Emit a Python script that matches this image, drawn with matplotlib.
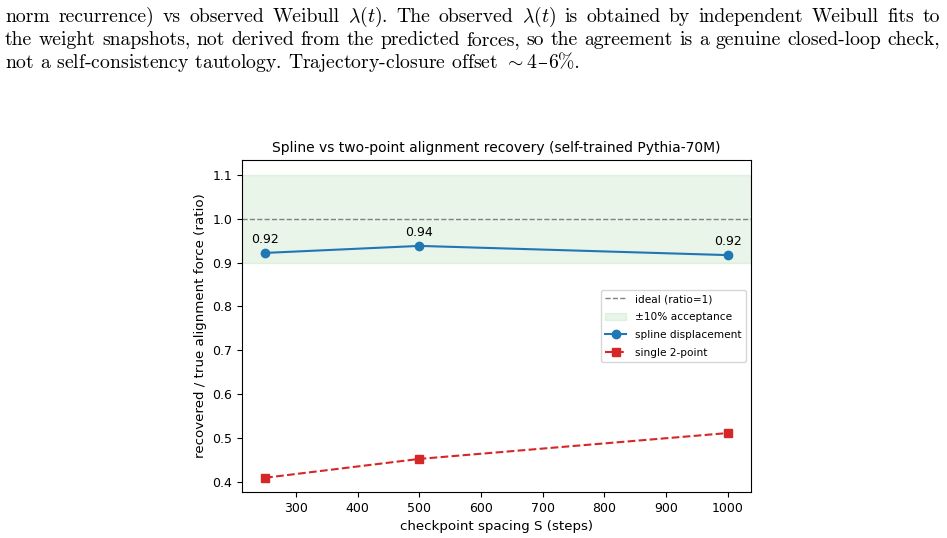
import matplotlib
matplotlib.use("Agg")
import matplotlib.pyplot as plt

# data
spacing = [250, 500, 1000]
spline_ratio = [0.922, 0.938, 0.917]
spline_labels = ["0.92", "0.94", "0.92"]
twopoint_ratio = [0.409, 0.452, 0.511]
x_ticks = [300, 400, 500, 600, 700, 800, 900, 1000]
y_ticks = [0.4, 0.5, 0.6, 0.7, 0.8, 0.9, 1.0, 1.1]

caption_justified = [
    r"norm recurrence) vs observed Weibull $\lambda(t)$. The observed $\lambda(t)$ is obtained by independent Weibull fits to",
    "the weight snapshots, not derived from the predicted forces, so the agreement is a genuine closed-loop check,",
]
caption_last = [r"not a self-consistency tautology. Trajectory-closure offset $\sim$4", "–", "6%."]

plt.rcParams["mathtext.fontset"] = "cm"

fig = plt.figure(figsize=(9.47, 5.38), dpi=100)
W, H = 947, 538
ax = fig.add_axes([242 / W, 1 - 492 / H, (751 - 242) / W, (492 - 160) / H])

ax.axhspan(0.9, 1.1, color="#2ca02c", alpha=0.1, label="±10% acceptance")
ax.axhline(1.0, color="gray", ls="--", lw=1, label="ideal (ratio=1)")
ax.plot(spacing, spline_ratio, "o-", color="#1f77b4", lw=1.5, ms=6, label="spline displacement")
ax.plot(spacing, twopoint_ratio, "s--", color="#d62728", lw=1.5, ms=6, label="single 2-point")
for x, y, t in zip(spacing, spline_ratio, spline_labels):
    ax.annotate(t, (x, y), textcoords="offset points", xytext=(0, 7), ha="center", fontsize=9)

ax.set_xlim(212.5, 1037.5)
ax.set_ylim(0.3765, 1.134)
ax.set_xticks(x_ticks)
ax.set_yticks(y_ticks)
ax.tick_params(labelsize=9)
ax.set_xlabel("checkpoint spacing S (steps)", fontsize=9.6)
ax.set_ylabel("recovered / true alignment force (ratio)", fontsize=9.6)
ax.set_title("Spline vs two-point alignment recovery (self-trained Pythia-70M)", fontsize=10)

h, l = ax.get_legend_handles_labels()
order = [1, 0, 2, 3]
ax.legend([h[i] for i in order], [l[i] for i in order], fontsize=7.6, labelspacing=0.75,
          loc="center right", bbox_to_anchor=(1.0, 0.5))

# caption text (justified like the typeset page)
renderer = fig.canvas.get_renderer()
FS = 14.2
FAM = ["cmr10", "DejaVu Serif"]
x0, x1 = 5.0, 940.0
ys = [17, 40, 63]


def put(xpix, ypix, s, fam=FAM):
    t = fig.text(xpix / W, 1 - ypix / H, s, fontsize=FS, family=fam, va="center", ha="left")
    return t, t.get_window_extent(renderer).width


for y, line in zip(ys[:2], caption_justified):
    words = line.split(" ")
    texts = []
    widths = []
    for w in words:
        t, wd = put(0, y, w)
        texts.append(t)
        widths.append(wd)
    gap = (x1 - x0 - sum(widths)) / (len(words) - 1)
    xc = x0
    for t, wd in zip(texts, widths):
        t.set_x(xc / W)
        xc += wd + gap

xc = x0
for i, seg in enumerate(caption_last):
    fam = ["DejaVu Serif"] if seg == "–" else FAM
    t, wd = put(xc, ys[2], seg, fam)
    xc += wd + (1 if seg == "–" else 0)

fig.savefig("out.png", dpi=100)
